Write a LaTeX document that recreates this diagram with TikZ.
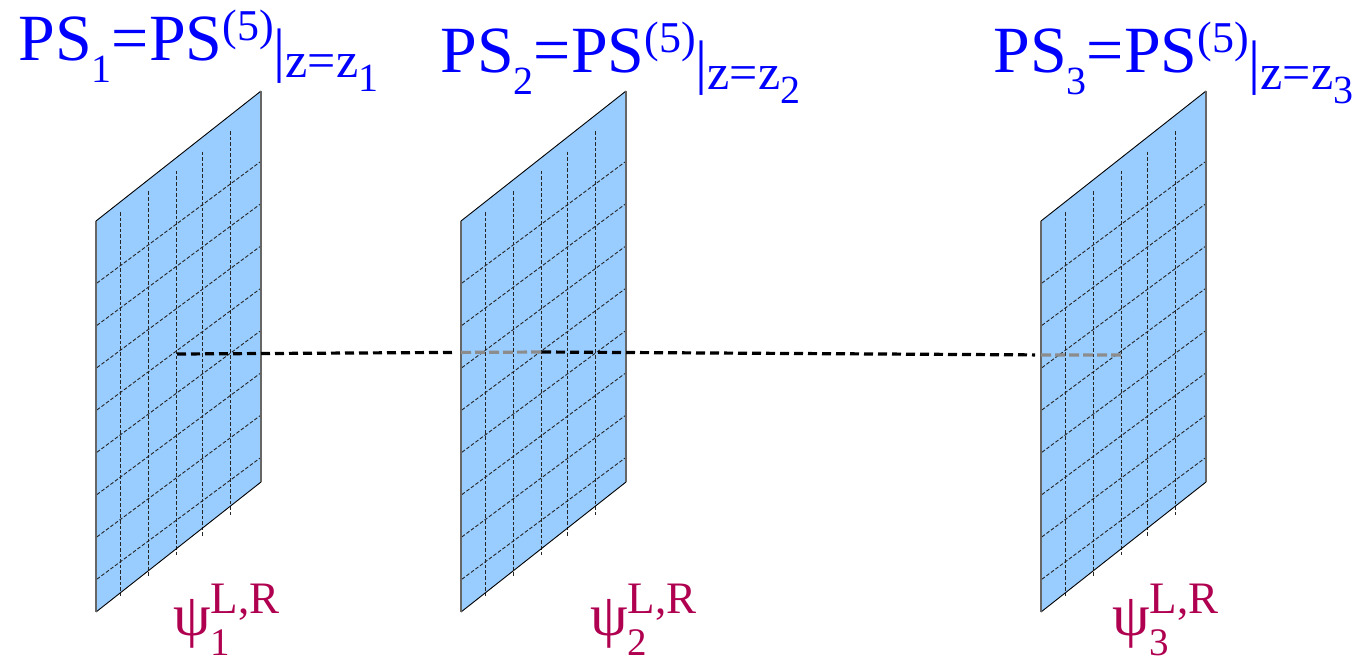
\documentclass[tikz,border=0pt]{standalone}
\usepackage{fontspec}
\setmainfont{Liberation Serif}
\usetikzlibrary{positioning}
\definecolor{planeblue}{RGB}{153,204,255}
\definecolor{psblue}{RGB}{0,0,255}
\definecolor{psicol}{RGB}{176,0,80}
\newcommand{\shifttxt}[3]{\raisebox{#1}{\fontsize{#2}{#2}\selectfont #3}}
\newcommand{\pslabel}[1]{PS\shifttxt{-11pt}{20pt}{#1}=PS\shifttxt{10pt}{22pt}{(5)}\shifttxt{-5pt}{30pt}{|}\shifttxt{-8.5pt}{25pt}{z=z\shifttxt{-7pt}{20pt}{#1}}}
\newcommand{\psilabel}[1]{\fontsize{30pt}{30pt}\selectfont ψ\rlap{\shifttxt{-10pt}{19.5pt}{#1}}\shifttxt{11pt}{22.5pt}{L,R}}

\begin{document}
\begin{tikzpicture}[
    x=0.5pt, y=-0.5pt,
    sheet/.style={fill=planeblue, draw=none},
    rim/.style={draw=black, line width=0.45pt},
    side/.style={draw=black!60, line width=1pt},
    gridline/.style={draw=black!85, line width=0.45pt, dash pattern=on 1.8pt off 1pt},
    psname/.style={anchor=base west, inner sep=0pt, text=psblue, font=\fontsize{33pt}{33pt}\selectfont},
    psiname/.style={anchor=base west, inner sep=0pt, text=psicol},
    front/.style={draw=black, line width=1.6pt, dash pattern=on 4.5pt off 2.5pt},
    back/.style={draw=black!45, line width=1.6pt, dash pattern=on 5pt off 2pt}
]
\useasboundingbox (0,0) rectangle (1356,661);

\foreach \L/\n/\px/\py/\qx in {96/1/18/60/173, 461/2/440/72/590, 1041/3/993/72/1112} {
  \fill[sheet] (\L,221) -- ({\L+165},91) -- ({\L+165},482) -- (\L,612) -- cycle;
  \foreach \dx in {24,52,80,106,134}
    \draw[gridline] ({\L+\dx},{212-(\dx-24)*0.736}) -- ++(0,385);
  \foreach \k in {0,...,7}
    \draw[gridline] ({\L+1},{283+42.3*\k}) -- ({\L+164},{162+42.3*\k});
  \draw[rim] (\L,221) -- ({\L+165},91);
  \draw[rim] (\L,612) -- ({\L+165},482);
  \draw[side] (\L,221) -- (\L,612);
  \draw[side] ({\L+165},91) -- ({\L+165},482);
  \node[psname] (ps\n) at (\px,\py) {\pslabel{\n}};
  \node[psiname] (psi\n) at (\qx,635) {\psilabel{\n}};
}

\coordinate (c1) at (177,354);
\coordinate (c2) at (542,352);
\coordinate (c3) at (1121,355);
\coordinate (e2) at (461,352.4);
\coordinate (e3) at (1041,354.9);
\coordinate (f2) at (455,352.4);
\coordinate (f3) at (1035,354.9);

\draw[front] (c1) -- (f2);
\draw[back] (e2) -- (c2);
\draw[front] (c2) -- (f3);
\draw[back] (e3) -- (c3);
\end{tikzpicture}
\end{document}
